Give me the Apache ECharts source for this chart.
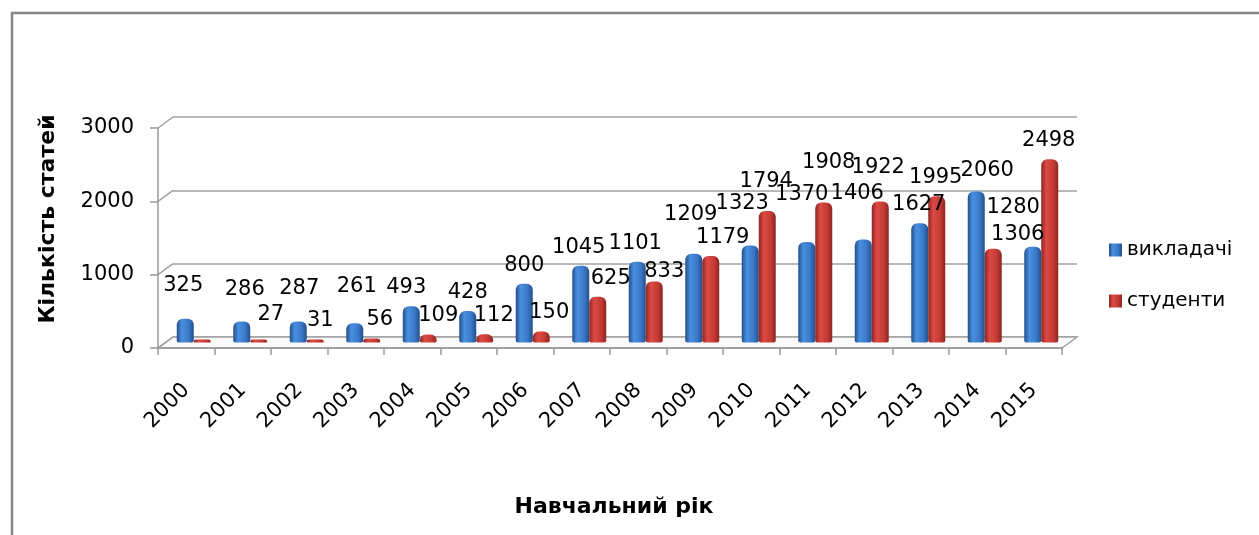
<!DOCTYPE html>
<html>
<head>
<meta charset="utf-8">
<script src="https://cdn.jsdelivr.net/npm/echarts@6/dist/echarts.min.js"></script>
<style>
  html, body { margin: 0; padding: 0; background: #fff; }
  #mychart { width: 1259px; height: 535px; }
</style>
</head>
<body>
<div id="mychart"></div>
<script>
// data
const years = ['2000', '2001', '2002', '2003', '2004', '2005', '2006', '2007',
  '2008', '2009', '2010', '2011', '2012', '2013', '2014', '2015']
const teachers = [325, 286, 287, 261, 493, 428, 800, 1045, 1101, 1209, 1323, 1370, 1406, 1627, 2060, 1306]
const students = [0, 27, 31, 56, 109, 112, 150, 625, 833, 1179, 1794, 1908, 1922, 1995, 1280, 2498]
const seriesNames = ['викладачі', 'студенти']
const yMin = 0
const yMax = 3000
const yStep = 1000

// label nudges [dx, dy] copying where the original moved its value labels
const teacherLabelNudge = [[-2, -15], [3, -13], [1, -14], [2, -18], [-5, 0], [0, 0], [0, 0], [-2, 0],
  [-2, 0], [-3, -21], [-8, -23], [-5, -29], [-6, -27], [-1, 0], [11, -2], [-15, 6]]
const studentLabelNudge = [[9, 0], [12, -6], [5, 0], [8, 0], [10, 0], [9, 0], [8, 0], [13, 0],
  [10, 9], [12, 0], [-1, -11], [5, -22], [-2, -16], [-1, 0], [20, -23], [-1, 0]]

const W = 1259
const front = { left: 158, right: 197, top: 128, bottom: 187 }
const DX = 15
const DY = 11
const font = 'DejaVu Sans'

function shift(g, k) {
  return { left: g.left + DX * k, right: g.right - DX * k, top: g.top - DY * k, bottom: g.bottom + DY * k }
}

function barColor(light, mid, dark) {
  return new echarts.graphic.LinearGradient(0, 0, 1, 0, [
    { offset: 0, color: dark },
    { offset: 0.3, color: light },
    { offset: 0.7, color: mid },
    { offset: 1, color: dark }
  ])
}

function withNudge(values, nudge) {
  return values.map((v, i) => ({ value: v, label: { offset: nudge[i] } }))
}

const hiddenAxis = {
  axisLine: { show: false }, axisTick: { show: false }, axisLabel: { show: false }, splitLine: { show: false }
}

const labelStyle = {
  show: true,
  position: 'top',
  distance: 8,
  fontFamily: font,
  fontSize: 21,
  color: '#000',
  formatter: p => (p.value ? String(p.value) : '')
}

const option = {
  backgroundColor: '#fff',
  animation: false,
  textStyle: { fontFamily: font },
  grid: [
    Object.assign({}, front),
    shift(front, 1),
    shift(front, 0.5)
  ],
  legend: {
    orient: 'vertical',
    left: 1104,
    top: 235,
    itemWidth: 13,
    itemHeight: 13,
    itemGap: 31,
    icon: 'rect',
    textStyle: { fontFamily: font, fontSize: 20, color: '#000' },
    data: seriesNames
  },
  xAxis: [
    {
      gridIndex: 0,
      type: 'category',
      data: years,
      boundaryGap: true,
      axisLine: { lineStyle: { color: '#999', width: 1.5 } },
      axisTick: { show: true, length: 7, lineStyle: { color: '#999', width: 1.5 } },
      axisLabel: { rotate: 45, margin: 39, fontFamily: font, fontSize: 21, color: '#000' },
      name: 'Навчальний рік',
      nameLocation: 'middle',
      nameGap: 148,
      nameTextStyle: { fontFamily: font, fontSize: 22, fontWeight: 'bold', color: '#000', padding: [0, 0, 0, 8] }
    },
    Object.assign({ gridIndex: 1, type: 'category', data: years }, hiddenAxis),
    Object.assign({ gridIndex: 2, type: 'category', data: years }, hiddenAxis)
  ],
  yAxis: [
    {
      gridIndex: 0,
      type: 'value',
      min: yMin,
      max: yMax,
      interval: yStep,
      axisLine: { show: true, lineStyle: { color: '#999', width: 1.5 } },
      axisTick: { show: true, inside: false, length: 8, lineStyle: { color: '#999', width: 1.5 } },
      axisLabel: { margin: 24, fontFamily: font, fontSize: 21, color: '#000', formatter: v => String(v) },
      splitLine: { show: false },
      name: 'Кількість статей',
      nameLocation: 'middle',
      nameRotate: 90,
      nameGap: 99,
      nameTextStyle: { fontFamily: font, fontSize: 22, fontWeight: 'bold', color: '#000', padding: [0, 0, 0, 38] }
    },
    Object.assign({}, hiddenAxis, {
      gridIndex: 1, type: 'value', min: yMin, max: yMax, interval: yStep,
      splitLine: { show: true, lineStyle: { color: '#a0a0a0', width: 1.5 } }
    }),
    Object.assign({ gridIndex: 2, type: 'value', min: yMin, max: yMax, interval: yStep }, hiddenAxis)
  ],
  series: [
    {
      name: seriesNames[0],
      type: 'bar',
      xAxisIndex: 2,
      yAxisIndex: 2,
      barWidth: 17,
      barGap: '0%',
      barMinHeight: 3,
      data: withNudge(teachers, teacherLabelNudge),
      itemStyle: {
        color: barColor('#4a90e0', '#3a78c8', '#244f8a'),
        borderRadius: [6, 6, 2, 2]
      },
      label: labelStyle,
      z: 3
    },
    {
      name: seriesNames[1],
      type: 'bar',
      xAxisIndex: 2,
      yAxisIndex: 2,
      barWidth: 17,
      barGap: '0%',
      barMinHeight: 3,
      data: withNudge(students, studentLabelNudge),
      itemStyle: {
        color: barColor('#dc4a44', '#c43a34', '#8e2622'),
        borderRadius: [6, 6, 2, 2]
      },
      label: labelStyle,
      z: 3
    }
  ]
}

const myChart = echarts.init(document.getElementById('mychart'), null, { renderer: 'canvas' })
myChart.setOption(option)

// 3D wall and floor edges built from the axis scale
const edge = { stroke: '#a0a0a0', lineWidth: 1.5 }
const graphics = []
const xL = front.left
const xR = W - front.right
for (let v = yMin; v <= yMax; v += yStep) {
  const y = myChart.convertToPixel({ yAxisIndex: 0 }, v)
  graphics.push({
    type: 'line', silent: true, z: 1,
    shape: { x1: xL, y1: y, x2: xL + DX, y2: y - DY },
    style: edge
  })
}
const y0 = myChart.convertToPixel({ yAxisIndex: 0 }, yMin)
graphics.push({
  type: 'polygon', silent: true, z: 0,
  shape: { points: [[xL, y0], [xR, y0], [xR + DX, y0 - DY], [xL + DX, y0 - DY]] },
  style: { fill: '#fafafa', stroke: '#a0a0a0', lineWidth: 1.5 }
})
// outer chart frame
graphics.push({
  type: 'polyline', silent: true, z: 10,
  shape: { points: [[12, 540], [12, 13], [1262, 13]] },
  style: { fill: null, stroke: '#888', lineWidth: 2.5 }
})
myChart.setOption({ graphic: graphics })
</script>
</body>
</html>
